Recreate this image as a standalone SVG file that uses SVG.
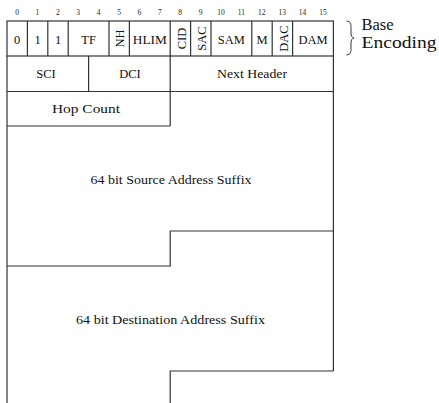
<svg xmlns="http://www.w3.org/2000/svg" width="439" height="403" viewBox="0 0 439 403">
<style>
  .ln { stroke: #333; stroke-width: 1.2; fill: none; }
  .t { font-family: "Liberation Serif", "Times New Roman", serif; font-size: 12.5px; fill: #111; text-anchor: middle; }
  .bn { font-family: "Liberation Serif", "Times New Roman", serif; font-size: 7.5px; fill: #222; text-anchor: middle; }
  .be { font-family: "Liberation Serif", "Times New Roman", serif; font-size: 16.5px; fill: #111; }
</style>
<rect width="439" height="403" fill="#fff"/>

<g id="bit-numbers">
  <text class="bn" x="17" y="15">0</text>
  <text class="bn" x="37.4" y="15">1</text>
  <text class="bn" x="57.8" y="15">2</text>
  <text class="bn" x="78.2" y="15">3</text>
  <text class="bn" x="98.6" y="15">4</text>
  <text class="bn" x="119" y="15">5</text>
  <text class="bn" x="139.4" y="15">6</text>
  <text class="bn" x="159.8" y="15">7</text>
  <text class="bn" x="180.2" y="15">8</text>
  <text class="bn" x="200.6" y="15">9</text>
  <text class="bn" x="221" y="15">10</text>
  <text class="bn" x="241.4" y="15">11</text>
  <text class="bn" x="261.8" y="15">12</text>
  <text class="bn" x="282.2" y="15">13</text>
  <text class="bn" x="302.6" y="15">14</text>
  <text class="bn" x="323" y="15">15</text>
</g>

<g id="outline">
  <rect class="ln" x="7" y="21" width="326.4" height="35"/>
  <path class="ln" d="M27.4 21V56 M47.8 21V56 M68.2 21V56 M109 21V56 M129.4 21V56 M170.2 21V56 M190.6 21V56 M211 21V56 M251.8 21V56 M272.2 21V56 M292.6 21V56"/>
  <path class="ln" d="M7 56V403 M333.4 56V371 M7 91.5H333.4 M88.6 56V91.5 M170.2 56V126 M7 126H170.2"/>
  <path class="ln" d="M333.4 231H170.2V266H7 M333.4 371H170.2V403"/>
</g>

<g id="f-0"><text class="t" x="17.2" y="43.5">0</text></g>
<g id="f-1a"><text class="t" x="37.6" y="43.5">1</text></g>
<g id="f-1b"><text class="t" x="58" y="43.5">1</text></g>
<g id="f-tf"><text class="t" x="88.6" y="43.5">TF</text></g>
<g id="f-nh"><text class="t" transform="translate(124,38.5) rotate(-90)">NH</text></g>
<g id="f-hlim"><text class="t" x="149.8" y="43.5" textLength="34" lengthAdjust="spacingAndGlyphs">HLIM</text></g>
<g id="f-cid"><text class="t" transform="translate(185.5,38.5) rotate(-90)">CID</text></g>
<g id="f-sac"><text class="t" transform="translate(206,38.5) rotate(-90)">SAC</text></g>
<g id="f-sam"><text class="t" x="231.4" y="43.5">SAM</text></g>
<g id="f-m"><text class="t" x="262" y="43.5">M</text></g>
<g id="f-dac"><text class="t" transform="translate(288,38.5) rotate(-90)">DAC</text></g>
<g id="f-dam"><text class="t" x="313" y="43.5">DAM</text></g>

<g id="f-sci"><text class="t" x="46" y="78">SCI</text></g>
<g id="f-dci"><text class="t" x="130" y="78">DCI</text></g>
<g id="f-nexthdr"><text class="t" x="252" y="78" textLength="70" lengthAdjust="spacingAndGlyphs">Next Header</text></g>
<g id="f-hop"><text class="t" x="86" y="112.5" textLength="68" lengthAdjust="spacingAndGlyphs">Hop Count</text></g>
<g id="f-src"><text class="t" x="171" y="184" textLength="161" lengthAdjust="spacingAndGlyphs">64 bit Source Address Suffix</text></g>
<g id="f-dst"><text class="t" x="170.5" y="324" textLength="189" lengthAdjust="spacingAndGlyphs">64 bit Destination Address Suffix</text></g>

<g id="base-encoding">
  <path d="M346.5 21 C351 21.5 351 24 351 28 L351 33 C351 36 352 37.5 354 38 C352 38.5 351 40 351 43 L351 48 C351 52 351 54.5 346.5 55" fill="none" stroke="#222" stroke-width="0.9"/>
  <text class="be" x="361.5" y="30">Base</text>
  <text class="be" x="361.5" y="47.5" textLength="75" lengthAdjust="spacingAndGlyphs">Encoding</text>
</g>
</svg>
